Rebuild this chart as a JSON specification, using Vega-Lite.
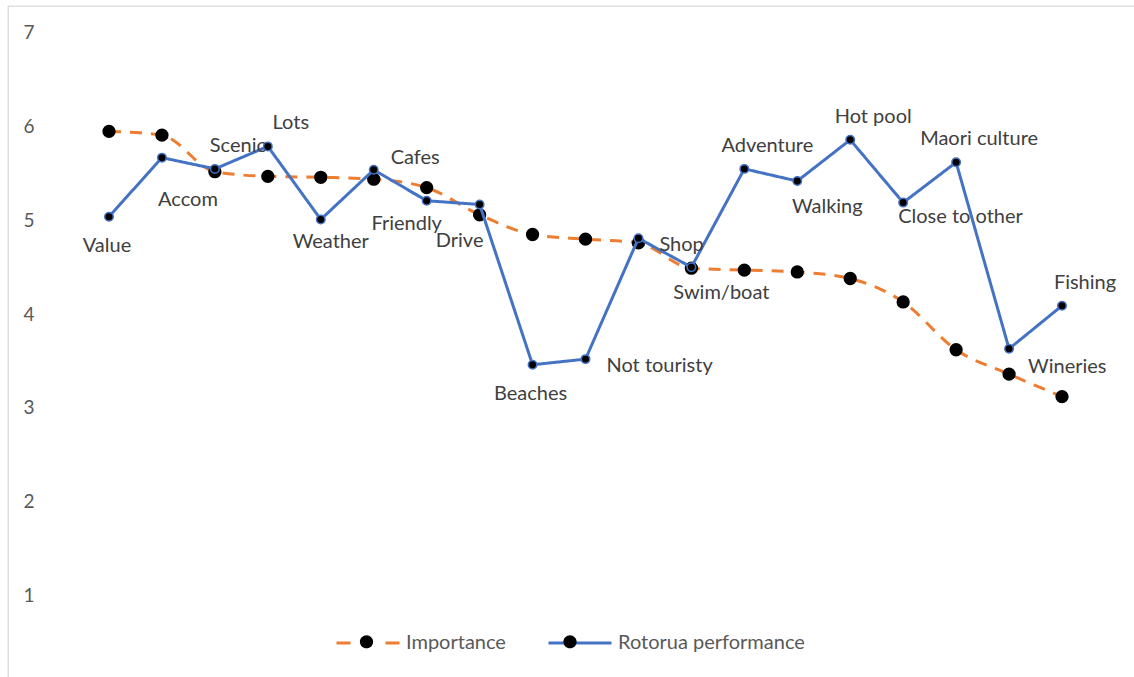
{
  "$schema": "https://vega.github.io/schema/vega-lite/v6.json",
  "width": 1155,
  "height": 683,
  "autosize": {"type": "none"},
  "padding": {"left": 8, "top": 6, "right": -29, "bottom": -12},
  "background": "white",
  "config": {
    "view": {"stroke": "#d9d9d9", "strokeWidth": 1.3},
    "font": "Lato"
  },
  "data": {
    "values": [
      {"factor": "Value", "series": "Importance", "score": 5.95},
      {"factor": "Accom", "series": "Importance", "score": 5.91},
      {"factor": "Scenic", "series": "Importance", "score": 5.52},
      {"factor": "Lots", "series": "Importance", "score": 5.47},
      {"factor": "Weather", "series": "Importance", "score": 5.46},
      {"factor": "Cafes", "series": "Importance", "score": 5.44},
      {"factor": "Friendly", "series": "Importance", "score": 5.35},
      {"factor": "Drive", "series": "Importance", "score": 5.06},
      {"factor": "Beaches", "series": "Importance", "score": 4.85},
      {"factor": "Not touristy", "series": "Importance", "score": 4.8},
      {"factor": "Shop", "series": "Importance", "score": 4.76},
      {"factor": "Swim/boat", "series": "Importance", "score": 4.49},
      {"factor": "Adventure", "series": "Importance", "score": 4.47},
      {"factor": "Walking", "series": "Importance", "score": 4.45},
      {"factor": "Hot pool", "series": "Importance", "score": 4.38},
      {"factor": "Close to other", "series": "Importance", "score": 4.13},
      {"factor": "Maori culture", "series": "Importance", "score": 3.62},
      {"factor": "Wineries", "series": "Importance", "score": 3.36},
      {"factor": "Fishing", "series": "Importance", "score": 3.12},
      {"factor": "Value", "series": "Rotorua performance", "score": 5.04},
      {"factor": "Accom", "series": "Rotorua performance", "score": 5.67},
      {"factor": "Scenic", "series": "Rotorua performance", "score": 5.55},
      {"factor": "Lots", "series": "Rotorua performance", "score": 5.79},
      {"factor": "Weather", "series": "Rotorua performance", "score": 5.01},
      {"factor": "Cafes", "series": "Rotorua performance", "score": 5.54},
      {"factor": "Friendly", "series": "Rotorua performance", "score": 5.21},
      {"factor": "Drive", "series": "Rotorua performance", "score": 5.17},
      {"factor": "Beaches", "series": "Rotorua performance", "score": 3.46},
      {"factor": "Not touristy", "series": "Rotorua performance", "score": 3.52},
      {"factor": "Shop", "series": "Rotorua performance", "score": 4.81},
      {"factor": "Swim/boat", "series": "Rotorua performance", "score": 4.5},
      {"factor": "Adventure", "series": "Rotorua performance", "score": 5.55},
      {"factor": "Walking", "series": "Rotorua performance", "score": 5.42},
      {"factor": "Hot pool", "series": "Rotorua performance", "score": 5.86},
      {"factor": "Close to other", "series": "Rotorua performance", "score": 5.19},
      {"factor": "Maori culture", "series": "Rotorua performance", "score": 5.62},
      {"factor": "Wineries", "series": "Rotorua performance", "score": 3.63},
      {"factor": "Fishing", "series": "Rotorua performance", "score": 4.09}
    ]
  },
  "encoding": {
    "x": {
      "field": "factor",
      "type": "nominal",
      "scale": {
        "domain": ["Value", "Accom", "Scenic", "Lots", "Weather", "Cafes", "Friendly", "Drive", "Beaches", "Not touristy", "Shop", "Swim/boat", "Adventure", "Walking", "Hot pool", "Close to other", "Maori culture", "Wineries", "Fishing"],
        "range": [101, 1054],
        "padding": 0
      },
      "axis": null
    },
    "y": {
      "field": "score",
      "type": "quantitative",
      "scale": {"domain": [0, 7.288], "nice": false, "zero": false},
      "axis": {
        "values": [1, 2, 3, 4, 5, 6, 7],
        "grid": false,
        "domain": false,
        "ticks": false,
        "title": null,
        "offset": -32,
        "labelPadding": 6,
        "labelFont": "Lato",
        "labelFontSize": 19,
        "labelColor": "#595959"
      }
    }
  },
  "layer": [
    {
      "transform": [{"filter": "datum.series === 'Importance'"}],
      "mark": {"type": "line", "interpolate": "monotone", "strokeWidth": 3, "strokeDash": [12, 9]},
      "encoding": {
        "color": {
          "field": "series",
          "type": "nominal",
          "scale": {"domain": ["Importance", "Rotorua performance"], "range": ["#ED7D31", "#4472C4"]},
          "legend": {
            "orient": "none",
            "legendX": 327,
            "legendY": 604,
            "direction": "horizontal",
            "title": null,
            "symbolType": "stroke",
            "symbolSize": 3969,
            "symbolStrokeWidth": 3,
            "labelFont": "Lato",
            "labelFontSize": 20,
            "labelColor": "#595959",
            "labelOffset": 5,
            "labelLimit": 400,
            "columnPadding": 36,
            "padding": 0
          }
        }
      }
    },
    {
      "transform": [{"filter": "datum.series === 'Importance'"}],
      "mark": {"type": "circle", "size": 177, "opacity": 1},
      "encoding": {
        "fill": {
          "field": "series",
          "type": "nominal",
          "scale": {"range": ["#000000", "#000000"]},
          "legend": {
            "orient": "none",
            "legendX": 327,
            "legendY": 604,
            "direction": "horizontal",
            "title": null,
            "symbolType": "M0.21,0A0.21,0.21,0,1,1,-0.21,0A0.21,0.21,0,1,1,0.21,0Z",
            "symbolSize": 3969,
            "symbolStrokeWidth": 0,
            "labelExpr": "''",
            "labelFont": "Lato",
            "labelFontSize": 20,
            "labelOffset": 5,
            "columnPadding": 135.5,
            "padding": 0
          }
        }
      }
    },
    {
      "transform": [{"filter": "datum.series === 'Rotorua performance'"}],
      "mark": {"type": "line", "strokeWidth": 3},
      "encoding": {
        "color": {"field": "series", "type": "nominal"},
        "strokeDash": {
          "field": "series",
          "type": "nominal",
          "scale": {"domain": ["Importance", "Rotorua performance"], "range": [[14, 35], [1, 0]]}
        }
      }
    },
    {
      "transform": [{"filter": "datum.series === 'Rotorua performance'"}],
      "mark": {"type": "circle", "size": 72, "opacity": 1, "stroke": "#4472C4", "strokeWidth": 1.5},
      "encoding": {
        "fill": {"field": "series", "type": "nominal"}
      }
    },
    {
      "transform": [{"filter": {"field": "factor", "oneOf": ["Scenic", "Lots", "Adventure", "Hot pool", "Maori culture", "Fishing"]}}, {"filter": "datum.series === 'Rotorua performance'"}],
      "mark": {"type": "text", "font": "Lato", "fontSize": 20, "color": "#404040", "baseline": "middle", "align": "center", "dx": 23, "dy": -23},
      "encoding": {"text": {"field": "factor"}}
    },
    {
      "transform": [{"filter": {"field": "factor", "oneOf": ["Accom"]}}, {"filter": "datum.series === 'Rotorua performance'"}],
      "mark": {"type": "text", "font": "Lato", "fontSize": 20, "color": "#404040", "baseline": "middle", "align": "center", "dx": 26, "dy": 42},
      "encoding": {"text": {"field": "factor"}}
    },
    {
      "transform": [{"filter": {"field": "factor", "oneOf": ["Swim/boat", "Walking"]}}, {"filter": "datum.series === 'Rotorua performance'"}],
      "mark": {"type": "text", "font": "Lato", "fontSize": 20, "color": "#404040", "baseline": "middle", "align": "center", "dx": 30, "dy": 26},
      "encoding": {"text": {"field": "factor"}}
    },
    {
      "transform": [{"filter": {"field": "factor", "oneOf": ["Weather"]}}, {"filter": "datum.series === 'Rotorua performance'"}],
      "mark": {"type": "text", "font": "Lato", "fontSize": 20, "color": "#404040", "baseline": "middle", "align": "center", "dx": 10, "dy": 23},
      "encoding": {"text": {"field": "factor"}}
    },
    {
      "transform": [{"filter": {"field": "factor", "oneOf": ["Value", "Beaches"]}}, {"filter": "datum.series === 'Rotorua performance'"}],
      "mark": {"type": "text", "font": "Lato", "fontSize": 20, "color": "#404040", "baseline": "middle", "align": "center", "dx": -2, "dy": 29},
      "encoding": {"text": {"field": "factor"}}
    },
    {
      "transform": [{"filter": {"field": "factor", "oneOf": ["Friendly"]}}, {"filter": "datum.series === 'Rotorua performance'"}],
      "mark": {"type": "text", "font": "Lato", "fontSize": 20, "color": "#404040", "baseline": "middle", "align": "center", "dx": -20, "dy": 23},
      "encoding": {"text": {"field": "factor"}}
    },
    {
      "transform": [{"filter": {"field": "factor", "oneOf": ["Drive"]}}, {"filter": "datum.series === 'Rotorua performance'"}],
      "mark": {"type": "text", "font": "Lato", "fontSize": 20, "color": "#404040", "baseline": "middle", "align": "center", "dx": -20, "dy": 37},
      "encoding": {"text": {"field": "factor"}}
    },
    {
      "transform": [{"filter": {"field": "factor", "oneOf": ["Not touristy", "Shop"]}}, {"filter": "datum.series === 'Rotorua performance'"}],
      "mark": {"type": "text", "font": "Lato", "fontSize": 20, "color": "#404040", "baseline": "middle", "align": "left", "dx": 21, "dy": 7},
      "encoding": {"text": {"field": "factor"}}
    },
    {
      "transform": [{"filter": {"field": "factor", "oneOf": ["Wineries"]}}, {"filter": "datum.series === 'Rotorua performance'"}],
      "mark": {"type": "text", "font": "Lato", "fontSize": 20, "color": "#404040", "baseline": "middle", "align": "left", "dx": 19, "dy": 18},
      "encoding": {"text": {"field": "factor"}}
    },
    {
      "transform": [{"filter": {"field": "factor", "oneOf": ["Cafes"]}}, {"filter": "datum.series === 'Rotorua performance'"}],
      "mark": {"type": "text", "font": "Lato", "fontSize": 20, "color": "#404040", "baseline": "middle", "align": "left", "dx": 17, "dy": -12},
      "encoding": {"text": {"field": "factor"}}
    },
    {
      "transform": [{"filter": {"field": "factor", "oneOf": ["Close to other"]}}, {"filter": "datum.series === 'Rotorua performance'"}],
      "mark": {"type": "text", "font": "Lato", "fontSize": 20, "color": "#404040", "baseline": "middle", "align": "left", "dx": -5, "dy": 14},
      "encoding": {"text": {"field": "factor"}}
    }
  ]
}
